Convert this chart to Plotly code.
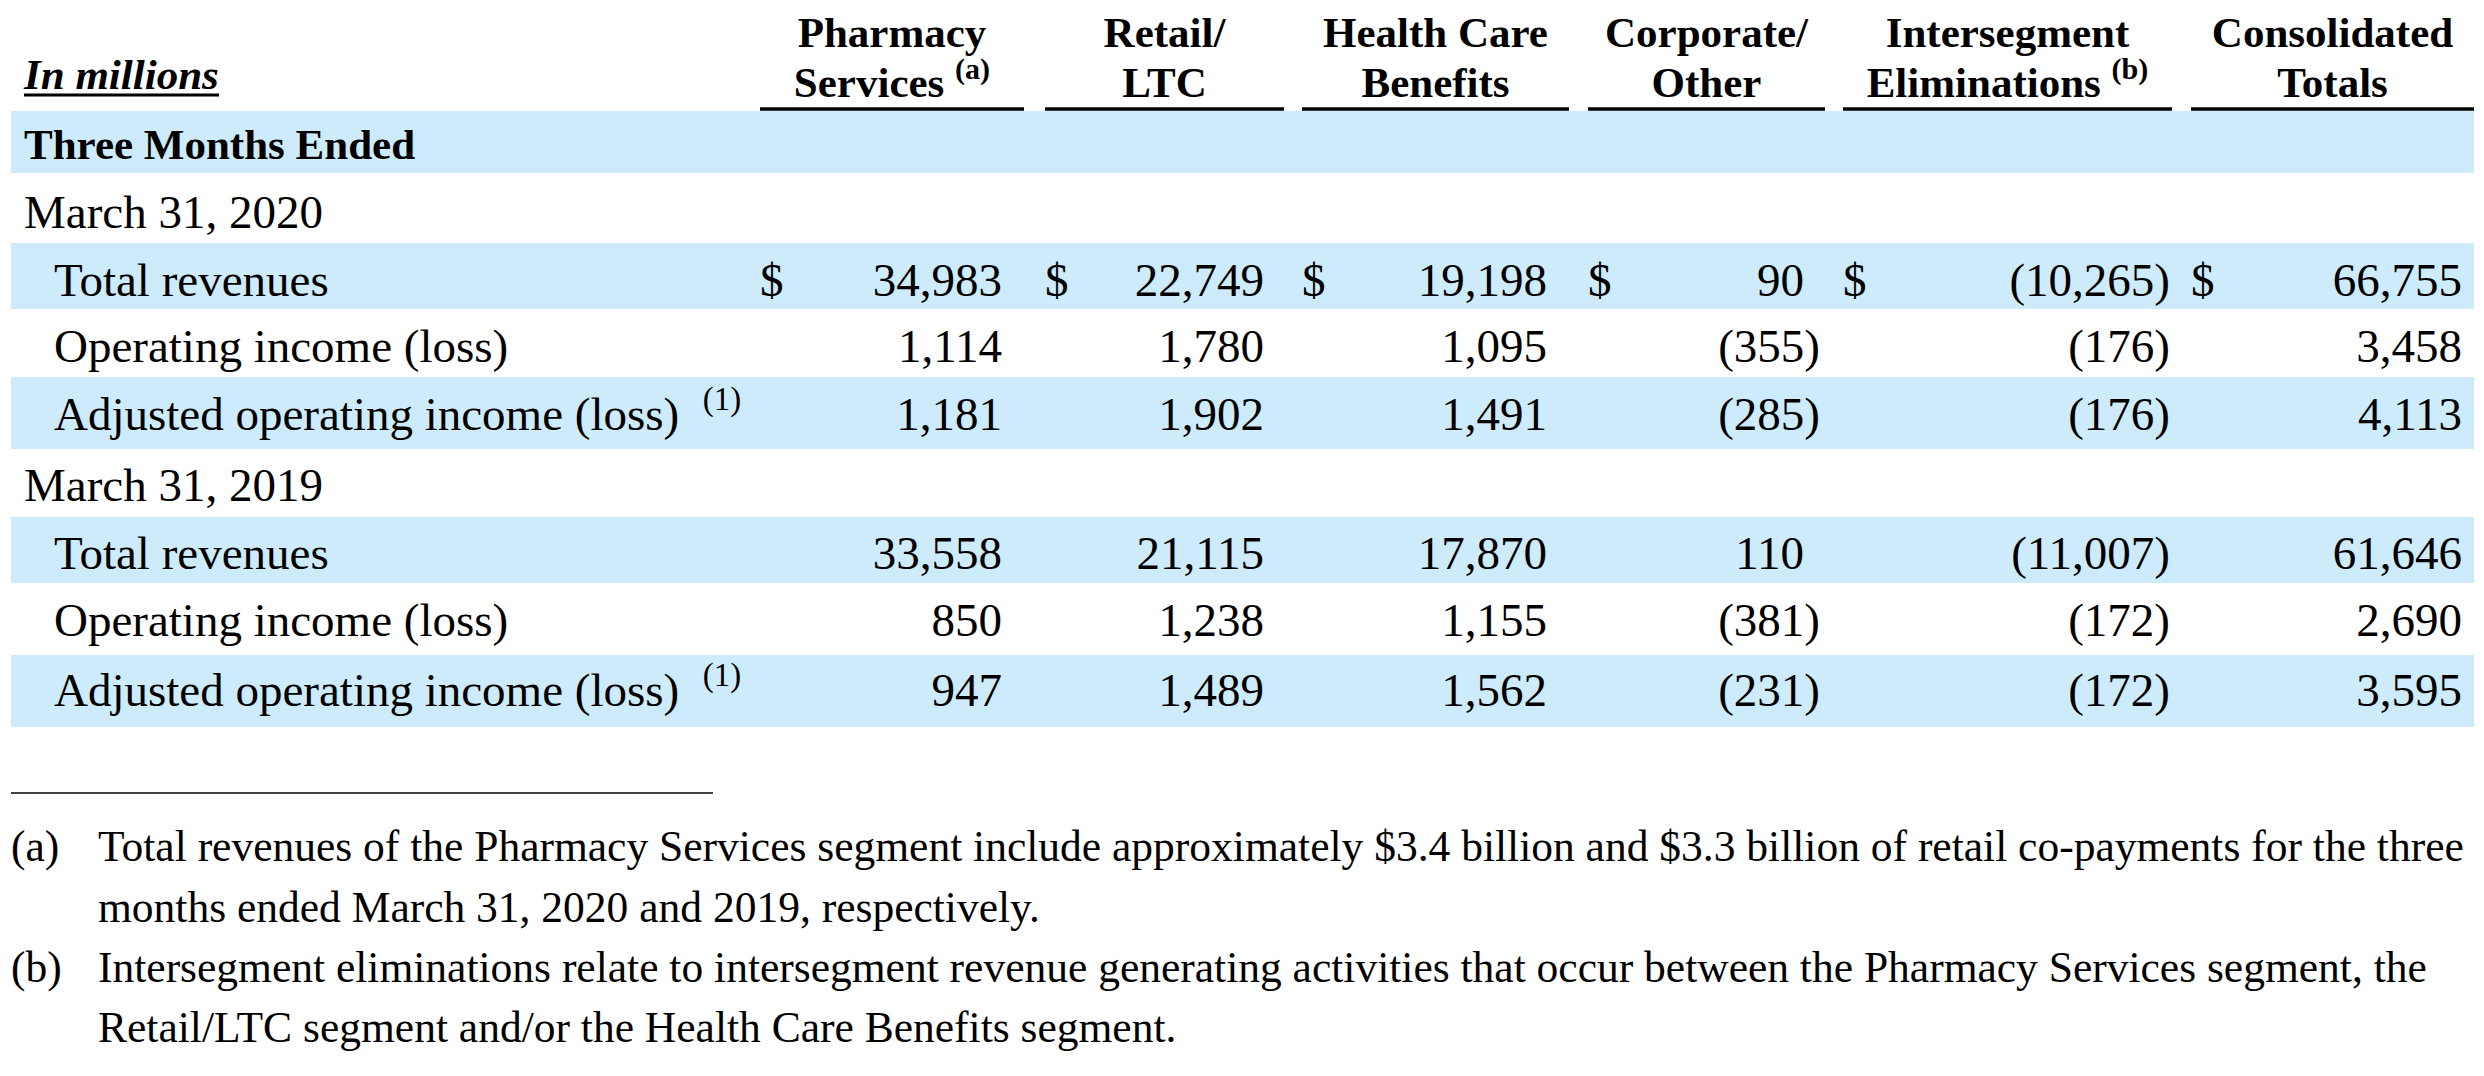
import plotly.graph_objects as go

FONT = "Liberation Serif"
BAND_COLOR = "#cdebfb"

# ------------------------------------------------------------------
# Table content
header_top = ["Pharmacy", "Retail/", "Health Care", "Corporate/", "Intersegment", "Consolidated"]
header_bottom = [
    "Services <sup>(a)</sup>",
    "LTC",
    "Benefits",
    "Other",
    "Eliminations <sup>(b)</sup>",
    "Totals",
]

section_label = "Three Months Ended"
period_labels = ["March 31, 2020", "March 31, 2019"]
line_items = [
    "Total revenues",
    "Operating income (loss)",
    "Adjusted operating income (loss)  <sup>(1)</sup>",
]

# values in millions, rows: 2020 (rev, op inc, adj op inc), 2019 (rev, op inc, adj op inc)
pharmacy_services = [34983, 1114, 1181, 33558, 850, 947]
retail_ltc = [22749, 1780, 1902, 21115, 1238, 1489]
health_care_benefits = [19198, 1095, 1491, 17870, 1155, 1562]
corporate_other = [90, -355, -285, 110, -381, -231]
intersegment_eliminations = [-10265, -176, -176, -11007, -172, -172]
consolidated_totals = [66755, 3458, 4113, 61646, 2690, 3595]

columns = [
    pharmacy_services,
    retail_ltc,
    health_care_benefits,
    corporate_other,
    intersegment_eliminations,
    consolidated_totals,
]

footnotes = [
    ("(a)", [
        "Total revenues of the Pharmacy Services segment include approximately $3.4 billion and $3.3 billion of retail co-payments for the three",
        "months ended March 31, 2020 and 2019, respectively.",
    ]),
    ("(b)", [
        "Intersegment eliminations relate to intersegment revenue generating activities that occur between the Pharmacy Services segment, the",
        "Retail/LTC segment and/or the Health Care Benefits segment.",
    ]),
]

# ------------------------------------------------------------------
# Geometry (pixel-like axis units)
W, H = 2484, 1076
PAD = 8  # default body margin of the page

row_y = [148, 216, 284, 350, 418, 489, 557, 624, 694]
band_rows = [(111, 173), (243, 309), (377, 449), (517, 583), (655, 727)]
data_rows = [2, 3, 4, 6, 7, 8]

col_left = [760, 1045, 1302, 1588, 1843, 2191]
col_right = [1024, 1284, 1569, 1825, 2172, 2474]
num_right = [1002, 1264, 1547, 1804, 2154, 2462]
paren_w = 16

header_y = [36, 86]
foot_y = [850, 911, 971, 1031]

BODY = 47
HEAD = 43
FOOT = 43.5


def fmt(v):
    return f"({abs(v):,})" if v < 0 else f"{v:,}"


fig = go.Figure()


def add_text(xs, ys, texts, pos, size, bold=False):
    fig.add_trace(
        go.Scatter(
            x=xs,
            y=ys,
            text=[f"<b>{t}</b>" if bold else t for t in texts],
            mode="text",
            textposition=pos,
            textfont=dict(family=FONT, size=size, color="black"),
            hoverinfo="skip",
            cliponaxis=False,
        )
    )


# header
centers = [(a + b) / 2 for a, b in zip(col_left, col_right)]
add_text(centers, [header_y[0]] * 6, header_top, "middle center", HEAD, bold=True)
add_text(centers, [header_y[1]] * 6, header_bottom, "middle center", HEAD, bold=True)
add_text([24], [78], ["<i>In millions</i>"], "middle right", HEAD, bold=True)

# row labels
add_text([24], [row_y[0]], [section_label], "middle right", HEAD, bold=True)
add_text([24, 24], [row_y[1], row_y[5]], period_labels, "middle right", BODY)
add_text([54] * 6, [row_y[r] for r in data_rows], line_items * 2, "middle right", BODY)

# numbers
for j, col in enumerate(columns):
    xs = [num_right[j] + (paren_w if v < 0 else 0) for v in col]
    add_text(xs, [row_y[r] for r in data_rows], [fmt(v) for v in col], "middle left", BODY)

# dollar signs on first revenue row
add_text(col_left, [row_y[2]] * 6, ["$"] * 6, "middle right", BODY)

# footnotes
for k, (tag, lines) in enumerate(footnotes):
    add_text([11], [foot_y[2 * k]], [tag], "middle right", FOOT)
    add_text([98] * len(lines), foot_y[2 * k:2 * k + len(lines)], lines, "middle right", FOOT)

# ------------------------------------------------------------------
# Bands and rules
shapes = []
for y0, y1 in band_rows:
    shapes.append(dict(type="rect", xref="x", yref="y", x0=11, x1=2474, y0=y0, y1=y1,
                       fillcolor=BAND_COLOR, line_width=0, layer="below"))
for a, b in zip(col_left, col_right):
    shapes.append(dict(type="line", xref="x", yref="y", x0=a, x1=b, y0=109, y1=109,
                       line=dict(color="black", width=3.5)))
shapes.append(dict(type="line", xref="x", yref="y", x0=24, x1=219, y0=95, y1=95,
                   line=dict(color="black", width=3)))
shapes.append(dict(type="line", xref="x", yref="y", x0=11, x1=713, y0=793, y1=793,
                   line=dict(color="black", width=1.5)))

fig.update_layout(
    width=W - 2 * PAD,
    height=H - 2 * PAD,
    margin=dict(l=0, r=0, t=0, b=0),
    paper_bgcolor="white",
    plot_bgcolor="white",
    showlegend=False,
    shapes=shapes,
    xaxis=dict(range=[PAD, W - PAD], visible=False, fixedrange=True),
    yaxis=dict(range=[H - PAD, PAD], visible=False, fixedrange=True),
)

fig.write_html("out.html", config={"displayModeBar": False})
